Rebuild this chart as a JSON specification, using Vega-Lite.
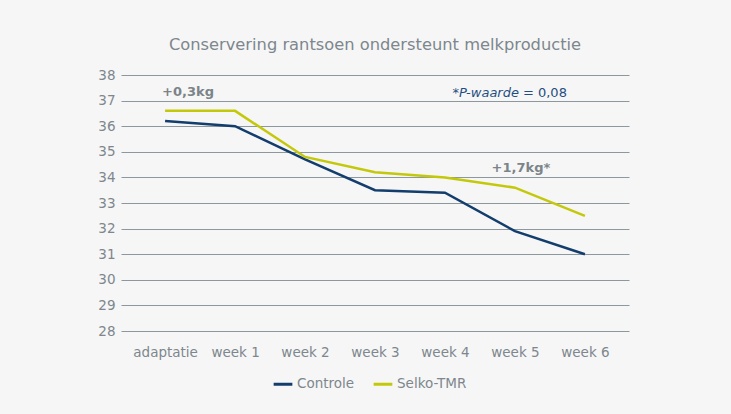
{
  "$schema": "https://vega.github.io/schema/vega-lite/v6.json",
  "width": 508,
  "height": 256,
  "autosize": {"type": "none"},
  "padding": {"left": 121, "top": 75, "right": 102, "bottom": 83},
  "background": "#f6f6f6",
  "title": {
    "text": "Conservering rantsoen ondersteunt melkproductie",
    "font": "DejaVu Sans",
    "fontSize": 16.3,
    "fontWeight": "normal",
    "color": "#7d878d",
    "offset": 15,
    "anchor": "middle"
  },
  "config": {
    "view": {"stroke": null},
    "font": "DejaVu Sans"
  },
  "datasets": {
    "lines": [
      {"week": "adaptatie", "groep": "Controle", "kg": 36.2},
      {"week": "week 1", "groep": "Controle", "kg": 36.0},
      {"week": "week 2", "groep": "Controle", "kg": 34.7},
      {"week": "week 3", "groep": "Controle", "kg": 33.5},
      {"week": "week 4", "groep": "Controle", "kg": 33.4},
      {"week": "week 5", "groep": "Controle", "kg": 31.9},
      {"week": "week 6", "groep": "Controle", "kg": 31.0},
      {"week": "adaptatie", "groep": "Selko-TMR", "kg": 36.6},
      {"week": "week 1", "groep": "Selko-TMR", "kg": 36.6},
      {"week": "week 2", "groep": "Selko-TMR", "kg": 34.8},
      {"week": "week 3", "groep": "Selko-TMR", "kg": 34.2},
      {"week": "week 4", "groep": "Selko-TMR", "kg": 34.0},
      {"week": "week 5", "groep": "Selko-TMR", "kg": 33.6},
      {"week": "week 6", "groep": "Selko-TMR", "kg": 32.5}
    ]
  },
  "encoding": {
    "x": {
      "field": "week",
      "type": "ordinal",
      "sort": ["adaptatie", "week 1", "week 2", "week 3", "week 4", "week 5", "week 6"],
      "scale": {"type": "point", "padding": 0.63},
      "axis": {
        "title": null,
        "labelAngle": 0,
        "domain": false,
        "ticks": false,
        "labelPadding": 14,
        "labelFontSize": 13.5,
        "labelColor": "#7d878d",
        "grid": false
      }
    },
    "y": {
      "field": "kg",
      "type": "quantitative",
      "scale": {"domain": [28, 38], "zero": false, "nice": false},
      "axis": {
        "title": null,
        "values": [28, 29, 30, 31, 32, 33, 34, 35, 36, 37, 38],
        "labelOverlap": false,
        "domain": false,
        "ticks": false,
        "labelPadding": 6,
        "labelFontSize": 13.5,
        "labelColor": "#7d878d",
        "gridColor": "#8c979e",
        "gridWidth": 1.2,
        "gridOpacity": 1
      }
    }
  },
  "layer": [
    {
      "data": {"name": "lines"},
      "mark": {"type": "line", "strokeWidth": 2.5},
      "encoding": {
        "color": {
          "field": "groep",
          "type": "nominal",
          "scale": {"domain": ["Controle", "Selko-TMR"], "range": ["#123d6c", "#c4c80a"]},
          "legend": {
            "title": null,
            "orient": "none",
            "direction": "horizontal",
            "legendX": 151,
            "legendY": 298,
            "symbolType": "stroke",
            "symbolStrokeWidth": 3,
            "symbolSize": 350,
            "labelFontSize": 13.5,
            "labelColor": "#7d878d",
            "columnPadding": 12,
            "labelOffset": 3
          }
        }
      }
    },
    {
      "data": {"values": [{"week": "adaptatie", "kg": 37.33, "tekst": "+0,3kg"}]},
      "mark": {"type": "text", "align": "left", "baseline": "middle", "dx": -3, "fontSize": 13, "fontWeight": "bold", "color": "#7b8489"},
      "encoding": {"text": {"field": "tekst"}}
    },
    {
      "data": {"values": [{"week": "week 5", "kg": 34.38, "tekst": "+1,7kg*"}]},
      "mark": {"type": "text", "align": "center", "baseline": "middle", "dx": 6, "fontSize": 13, "fontWeight": "bold", "color": "#7b8489"},
      "encoding": {"text": {"field": "tekst"}}
    },
    {
      "data": {"values": [{"week": "week 5", "kg": 37.3, "tekst": "*P-waarde"}]},
      "mark": {"type": "text", "align": "right", "baseline": "middle", "dx": 4, "fontSize": 13, "fontStyle": "italic", "color": "#1f4f82"},
      "encoding": {"text": {"field": "tekst"}}
    },
    {
      "data": {"values": [{"week": "week 5", "kg": 37.3, "tekst": "= 0,08"}]},
      "mark": {"type": "text", "align": "left", "baseline": "middle", "dx": 8, "fontSize": 13, "color": "#1f4f82"},
      "encoding": {"text": {"field": "tekst"}}
    }
  ]
}
